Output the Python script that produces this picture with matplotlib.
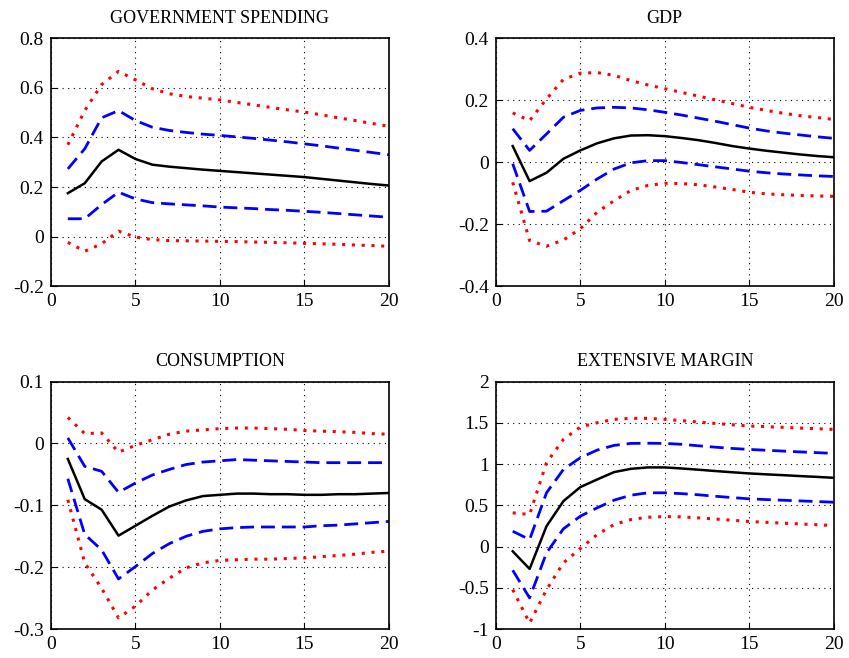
import numpy as np
import matplotlib
matplotlib.use("Agg")
import matplotlib.pyplot as plt
from matplotlib.ticker import FormatStrFormatter

plt.rcParams['font.family'] = ['Liberation Serif', 'DejaVu Serif']
plt.rcParams['axes.unicode_minus'] = False

# horizon
horizon = np.arange(1, 21)

# GOVERNMENT SPENDING
gov_mid = [0.175, 0.215, 0.303, 0.350, 0.313, 0.290, 0.282, 0.276, 0.270, 0.265,
           0.260, 0.255, 0.250, 0.245, 0.240, 0.233, 0.226, 0.219, 0.212, 0.206]
gov_hi68 = [0.273, 0.354, 0.479, 0.508, 0.468, 0.441, 0.428, 0.420, 0.413, 0.408,
            0.402, 0.396, 0.389, 0.382, 0.374, 0.366, 0.357, 0.348, 0.339, 0.330]
gov_lo68 = [0.072, 0.072, 0.129, 0.179, 0.152, 0.137, 0.132, 0.128, 0.124, 0.119,
            0.116, 0.113, 0.109, 0.106, 0.102, 0.098, 0.093, 0.088, 0.083, 0.078]
gov_hi90 = [0.370, 0.508, 0.613, 0.666, 0.632, 0.596, 0.576, 0.565, 0.558, 0.551,
            0.541, 0.531, 0.521, 0.511, 0.502, 0.491, 0.479, 0.468, 0.456, 0.445]
gov_lo90 = [-0.023, -0.059, -0.029, 0.022, -0.002, -0.012, -0.016, -0.017, -0.018, -0.019,
            -0.020, -0.022, -0.023, -0.025, -0.027, -0.029, -0.031, -0.034, -0.036, -0.039]

# GDP
gdp_mid = [0.052, -0.061, -0.034, 0.011, 0.038, 0.061, 0.077, 0.086, 0.087, 0.084,
           0.078, 0.071, 0.062, 0.052, 0.044, 0.037, 0.031, 0.025, 0.020, 0.016]
gdp_hi68 = [0.108, 0.038, 0.091, 0.145, 0.167, 0.175, 0.177, 0.175, 0.169, 0.161,
            0.152, 0.142, 0.132, 0.121, 0.110, 0.101, 0.094, 0.088, 0.082, 0.077]
gdp_lo68 = [-0.005, -0.159, -0.158, -0.124, -0.091, -0.054, -0.022, -0.002, 0.005, 0.005,
            -0.001, -0.008, -0.015, -0.022, -0.029, -0.034, -0.038, -0.041, -0.044, -0.046]
gdp_hi90 = [0.159, 0.134, 0.204, 0.267, 0.287, 0.289, 0.280, 0.263, 0.249, 0.237,
            0.225, 0.213, 0.201, 0.189, 0.177, 0.167, 0.158, 0.150, 0.144, 0.138]
gdp_lo90 = [-0.065, -0.253, -0.271, -0.251, -0.215, -0.161, -0.124, -0.091, -0.075, -0.068,
            -0.069, -0.073, -0.080, -0.088, -0.097, -0.102, -0.105, -0.107, -0.109, -0.110]

# CONSUMPTION
con_mid = [-0.025, -0.090, -0.107, -0.149, -0.133, -0.117, -0.102, -0.092, -0.085, -0.083,
           -0.081, -0.081, -0.082, -0.082, -0.083, -0.083, -0.082, -0.082, -0.081, -0.080]
con_hi68 = [0.009, -0.037, -0.045, -0.079, -0.064, -0.051, -0.042, -0.034, -0.030, -0.028,
            -0.026, -0.027, -0.028, -0.029, -0.030, -0.031, -0.031, -0.031, -0.031, -0.031]
con_lo68 = [-0.057, -0.147, -0.172, -0.219, -0.199, -0.178, -0.162, -0.150, -0.142, -0.138,
            -0.136, -0.135, -0.135, -0.135, -0.135, -0.133, -0.132, -0.130, -0.128, -0.126]
con_hi90 = [0.042, 0.016, 0.017, -0.014, -0.003, 0.006, 0.015, 0.020, 0.022, 0.024,
            0.025, 0.025, 0.024, 0.023, 0.021, 0.020, 0.019, 0.018, 0.016, 0.015]
con_lo90 = [-0.091, -0.193, -0.234, -0.282, -0.263, -0.237, -0.218, -0.201, -0.193, -0.189,
            -0.188, -0.187, -0.187, -0.186, -0.185, -0.183, -0.181, -0.179, -0.176, -0.174]

# EXTENSIVE MARGIN
ext_mid = [-0.057, -0.271, 0.247, 0.551, 0.721, 0.814, 0.903, 0.943, 0.960, 0.960,
           0.947, 0.932, 0.916, 0.901, 0.887, 0.876, 0.866, 0.855, 0.845, 0.834]
ext_hi68 = [0.186, 0.085, 0.652, 0.935, 1.077, 1.170, 1.227, 1.251, 1.253, 1.251,
            1.240, 1.222, 1.205, 1.190, 1.178, 1.168, 1.158, 1.148, 1.139, 1.130]
ext_lo68 = [-0.287, -0.623, -0.077, 0.215, 0.368, 0.470, 0.563, 0.623, 0.652, 0.652,
            0.642, 0.628, 0.610, 0.594, 0.579, 0.570, 0.562, 0.554, 0.546, 0.538]
ext_hi90 = [0.409, 0.389, 1.016, 1.300, 1.449, 1.502, 1.543, 1.555, 1.555, 1.543,
            1.527, 1.510, 1.493, 1.477, 1.462, 1.454, 1.446, 1.437, 1.429, 1.421]
ext_lo90 = [-0.522, -0.927, -0.522, -0.198, -0.024, 0.146, 0.267, 0.328, 0.356, 0.364,
            0.360, 0.348, 0.334, 0.319, 0.304, 0.294, 0.284, 0.274, 0.265, 0.255]

titles = ["GOVERNMENT SPENDING", "GDP", "CONSUMPTION", "EXTENSIVE MARGIN"]
series = [
    (gov_mid, gov_hi68, gov_lo68, gov_hi90, gov_lo90),
    (gdp_mid, gdp_hi68, gdp_lo68, gdp_hi90, gdp_lo90),
    (con_mid, con_hi68, con_lo68, con_hi90, con_lo90),
    (ext_mid, ext_hi68, ext_lo68, ext_hi90, ext_lo90),
]
ylims = [(-0.2, 0.8), (-0.4, 0.4), (-0.3, 0.1), (-1, 2)]
yticks = [
    [-0.2, 0, 0.2, 0.4, 0.6, 0.8],
    [-0.4, -0.2, 0, 0.2, 0.4],
    [-0.3, -0.2, -0.1, 0, 0.1],
    [-1, -0.5, 0, 0.5, 1, 1.5, 2],
]
xticks = [0, 5, 10, 15, 20]

# axes boxes in figure fractions
boxes = [
    [0.060, 0.565, 0.398, 0.377],
    [0.584, 0.565, 0.398, 0.377],
    [0.060, 0.044, 0.398, 0.376],
    [0.584, 0.044, 0.398, 0.376],
]

fig = plt.figure(figsize=(8.49, 6.58), dpi=100)

for i in range(4):
    ax = fig.add_axes(boxes[i])
    mid, hi68, lo68, hi90, lo90 = series[i]
    ax.plot(horizon, hi90, color='red', linestyle=(0, (1, 2.2)), linewidth=2.2)
    ax.plot(horizon, lo90, color='red', linestyle=(0, (1, 2.2)), linewidth=2.2)
    ax.plot(horizon, hi68, color='blue', linestyle=(0, (5, 2.5)), linewidth=2.0)
    ax.plot(horizon, lo68, color='blue', linestyle=(0, (5, 2.5)), linewidth=2.0)
    ax.plot(horizon, mid, color='black', linewidth=1.8)

    ax.set_xlim(0, 20)
    ax.set_ylim(*ylims[i])
    ax.set_xticks(xticks)
    ax.set_yticks(yticks[i])
    ax.yaxis.set_major_formatter(FormatStrFormatter('%g'))
    ax.grid(True, color='black', linestyle=(0, (1, 4)), linewidth=0.8)
    ax.tick_params(direction='in', labelsize=14, length=4, pad=5)
    for sp in ax.spines.values():
        sp.set_linewidth(1.2)
    ax.set_title(titles[i], fontsize=13, pad=11)

fig.savefig("out.png", dpi=100)
